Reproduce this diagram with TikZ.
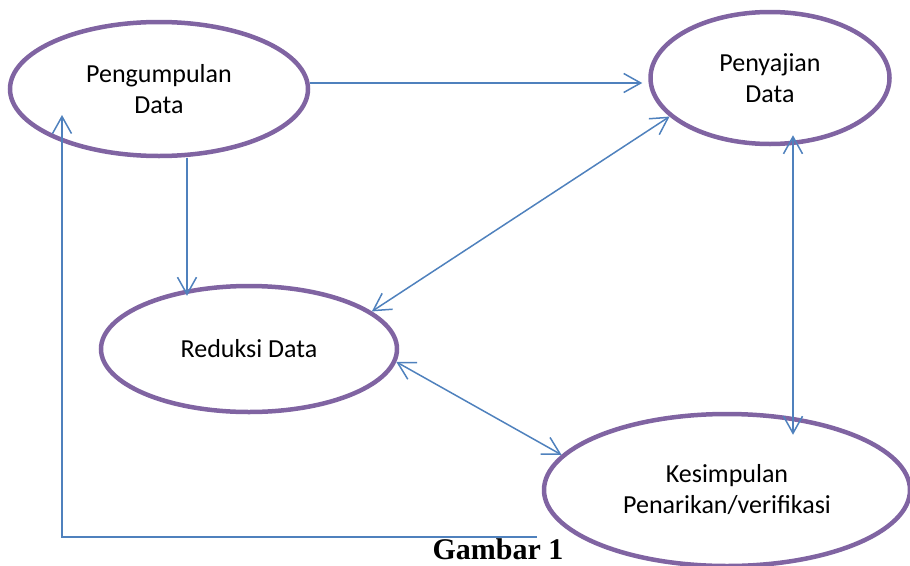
\documentclass[tikz,border=0pt]{standalone}
\usepackage{fontspec}
\setmainfont{Carlito}
\newfontfamily\judulfont{Liberation Serif}
\usetikzlibrary{shapes.geometric,arrows.meta}
\definecolor{ungu}{RGB}{128,100,162}
\definecolor{biru}{RGB}{79,129,189}

\begin{document}
\begin{tikzpicture}[x=1pt, y=-1pt,
	wadah/.style={ellipse, draw=ungu, line width=4.5pt, align=center, inner sep=0pt, font=\fontsize{26}{31}\selectfont},
	alur/.style={draw=biru, line width=1.5pt, arrows={-Straight Barb[length=17pt,width=19pt]}},
	duaarah/.style={alur, arrows={Straight Barb[length=17pt,width=19pt]-Straight Barb[length=17pt,width=19pt]}}]
	\useasboundingbox (0,0) rectangle (910,565);

	\node (kumpul) at (159,89) [wadah, minimum width=298pt, minimum height=134pt] {Pengumpulan\\Data};
	\node (sajian) at (770,78) [wadah, minimum width=239pt, minimum height=132pt] {Penyajian\\Data};
	\node (reduksi) at (249,349) [wadah, minimum width=296pt, minimum height=126pt] {Reduksi Data};
	\node (simpulan) at (727,490) [wadah, minimum width=366pt, minimum height=152pt] {Kesimpulan\\Penarikan/verifikasi};

	\node (judul) at (498,549) [font=\judulfont\bfseries\fontsize{30}{34}\selectfont] {Gambar 1};

	\coordinate (ujung) at (537,537);

	\draw[alur] ([yshift=6pt]kumpul.east) to ([xshift=-6pt,yshift=-5pt]sajian.west);
	\draw[alur] ([xshift=28pt]kumpul.south) to ([xshift=-62pt,yshift=-12pt]reduksi.north);
	\draw[duaarah] (reduksi.17) to (sajian.201);
	\draw[duaarah] (reduksi.-5) to (simpulan.168);
	\draw[duaarah] ([xshift=23pt,yshift=11pt]sajian.south) to ([xshift=66pt,yshift=-23pt]simpulan.north);
	\draw[alur] (ujung) -| ([xshift=-97pt,yshift=-26pt]kumpul.center);

\end{tikzpicture}
\end{document}
